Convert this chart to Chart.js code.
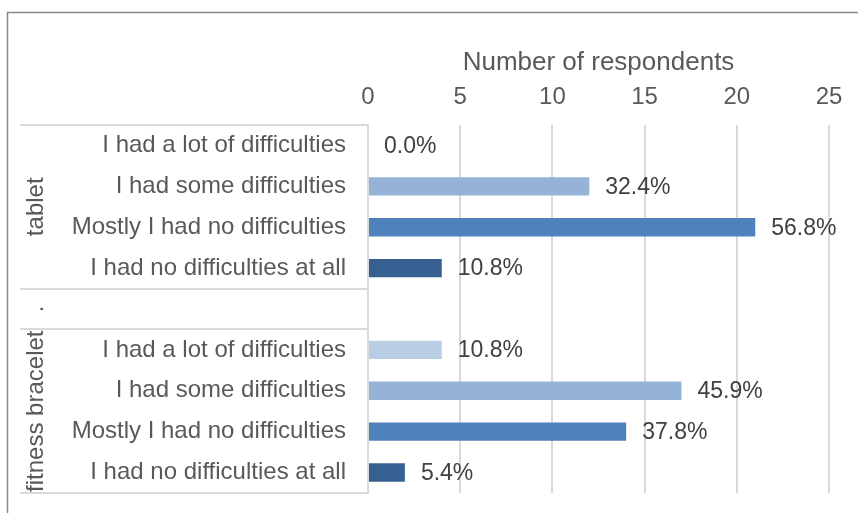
<!DOCTYPE html>
<html>
<head>
<meta charset="utf-8">
<script src="https://cdn.jsdelivr.net/npm/chart.js@4"></script>
<style>
  html, body { margin: 0; padding: 0; background: #fff; }
  #wrap { width: 858px; height: 513px; }
</style>
</head>
<body>
<div id="wrap"><canvas id="chart" width="858" height="513"></canvas></div>
<script>
// data
const groups = ['tablet', '.', 'fitness bracelet'];
const groupSizes = [4, 1, 4];
const categories = [
  'I had a lot of difficulties',
  'I had some difficulties',
  'Mostly I had no difficulties',
  'I had no difficulties at all',
  '',
  'I had a lot of difficulties',
  'I had some difficulties',
  'Mostly I had no difficulties',
  'I had no difficulties at all'
];
const respondents = [0, 12, 21, 4, null, 4, 17, 14, 2];
const shareLabels = ['0.0%', '32.4%', '56.8%', '10.8%', '', '10.8%', '45.9%', '37.8%', '5.4%'];
const barColors = ['#B9CDE5', '#95B3D7', '#4F81BD', '#366092', '#ffffff',
                   '#B9CDE5', '#95B3D7', '#4F81BD', '#366092'];
const xMin = 0, xMax = 25, xStep = 5;

const FONT = "'Liberation Sans', Arial, sans-serif";
Chart.defaults.font.family = FONT;
Chart.defaults.font.size = 24;
Chart.defaults.color = '#595959';

// frame around the whole chart
const framePlugin = {
  id: 'frame',
  beforeDraw(chart) {
    const ctx = chart.ctx;
    ctx.save();
    ctx.fillStyle = '#fff';
    ctx.fillRect(0, 0, chart.width, chart.height);
    ctx.strokeStyle = '#898989';
    ctx.lineWidth = 1.5;
    ctx.strokeRect(7.5, 12.5, chart.width + 20, chart.height + 20);
    ctx.restore();
  }
};

// second level of the category axis: group names and separators
const groupAxisPlugin = {
  id: 'groupAxis',
  afterDraw(chart) {
    const ctx = chart.ctx;
    const y = chart.scales.y;
    const area = chart.chartArea;
    const step = (y.bottom - y.top) / categories.length;
    ctx.save();
    ctx.strokeStyle = '#d9d9d9';
    ctx.lineWidth = 2;
    let idx = 0;
    const lines = [y.top];
    groups.forEach((name, g) => {
      const top = y.getPixelForValue(idx) - step / 2;
      const bottom = y.getPixelForValue(idx + groupSizes[g] - 1) + step / 2;
      lines.push(bottom);
      ctx.save();
      ctx.translate(36, (top + bottom) / 2);
      ctx.rotate(-Math.PI / 2);
      ctx.fillStyle = '#595959';
      ctx.font = '24px ' + FONT;
      ctx.textAlign = 'center';
      ctx.textBaseline = 'middle';
      ctx.fillText(name, 0, 0);
      ctx.restore();
      idx += groupSizes[g];
    });
    lines.forEach(p => {
      ctx.beginPath();
      ctx.moveTo(20, Math.round(p));
      ctx.lineTo(area.left, Math.round(p));
      ctx.stroke();
    });
    ctx.restore();
  }
};

// percentage labels at the end of each bar
const shareLabelPlugin = {
  id: 'shareLabels',
  afterDatasetsDraw(chart) {
    const ctx = chart.ctx;
    const meta = chart.getDatasetMeta(0);
    ctx.save();
    ctx.fillStyle = '#404040';
    ctx.font = '23px ' + FONT;
    ctx.textAlign = 'left';
    ctx.textBaseline = 'middle';
    meta.data.forEach((bar, i) => {
      if (respondents[i] === null) return;
      ctx.fillText(shareLabels[i], bar.x + 16, bar.y + 1);
    });
    ctx.restore();
  }
};

new Chart(document.getElementById('chart'), {
  type: 'bar',
  data: {
    labels: categories,
    datasets: [{
      data: respondents,
      backgroundColor: barColors,
      borderWidth: 0,
      categoryPercentage: 1,
      barPercentage: 0.45
    }]
  },
  options: {
    indexAxis: 'y',
    responsive: false,
    animation: false,
    layout: { padding: { left: 0, right: 29, top: 0, bottom: 20 } },
    plugins: {
      legend: { display: false },
      tooltip: { enabled: false }
    },
    scales: {
      x: {
        position: 'top',
        min: xMin,
        max: xMax,
        afterFit(scale) { scale.height = 125; },
        ticks: { stepSize: xStep, padding: 13, color: '#595959' },
        grid: { color: '#d9d9d9', lineWidth: 2, drawTicks: false },
        border: { display: false },
        title: {
          display: true,
          text: 'Number of respondents',
          color: '#595959',
          font: { size: 26 },
          padding: { top: 47, bottom: 0 }
        }
      },
      y: {
        afterFit(scale) {
          scale.width = 368;
          scale.paddingTop = 0;
          scale.paddingBottom = 0;
        },
        ticks: { padding: 22, color: '#595959', autoSkip: false },
        grid: { display: false, drawTicks: false },
        border: { display: true, color: '#d9d9d9', width: 2 }
      }
    }
  },
  plugins: [framePlugin, groupAxisPlugin, shareLabelPlugin]
});
</script>
</body>
</html>
